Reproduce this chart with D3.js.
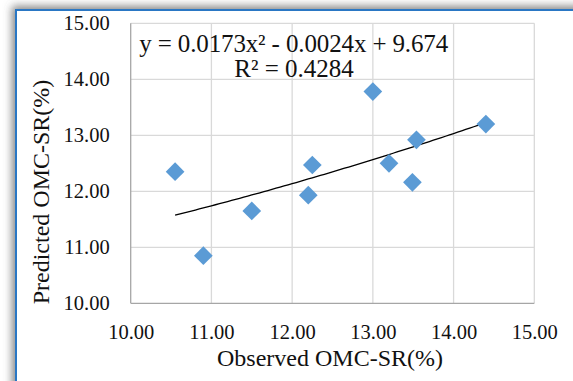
<!DOCTYPE html>
<html><head><meta charset="utf-8">
<script src="https://cdn.jsdelivr.net/npm/d3@7/dist/d3.min.js"></script>
<style>html,body{margin:0;padding:0;background:#fff;overflow:hidden}</style>
</head><body>
<script>
const observed = [10.55, 10.90, 11.50, 12.20, 12.25, 13.00, 13.20, 13.49, 13.54, 14.40];
const predicted = [12.35, 10.85, 11.65, 11.93, 12.47, 13.78, 12.50, 12.16, 12.92, 13.20];
const xTicks = [10, 11, 12, 13, 14, 15];
const yTicks = [10, 11, 12, 13, 14, 15];
const trendCoef = [0.0173, -0.0024, 9.674]; // a, b, c of displayed trendline
const eqLabel = "y = 0.0173x² - 0.0024x + 9.674";
const r2Label = "R² = 0.4284";
const xTitle = "Observed OMC-SR(%)";
const yTitle = "Predicted OMC-SR(%)";

const W = 573, H = 381;
const svg = d3.select("body").append("svg").attr("width", W).attr("height", H);
const defs = svg.append("defs");
const f = defs.append("filter").attr("id","sh").attr("x","-20%").attr("y","-20%").attr("width","140%").attr("height","140%");
f.append("feDropShadow").attr("dx",-3).attr("dy",-3).attr("stdDeviation",4).attr("flood-color","#555").attr("flood-opacity",0.7);

svg.append("rect").attr("x",0).attr("y",0).attr("width",W).attr("height",H).attr("fill","#fff");
svg.append("rect").attr("x",16).attr("y",10).attr("width",700).attr("height",500)
  .attr("fill","#fff").attr("stroke","#2a77c4").attr("stroke-width",2).attr("filter","url(#sh)");

const x = d3.scaleLinear().domain([10,15]).range([130.7,534.3]);
const y = d3.scaleLinear().domain([10,15]).range([303.3,23.3]);
const font = "'Liberation Serif', 'Times New Roman', 'DejaVu Serif', serif";

const g = svg.append("g");
g.selectAll(".gx").data(xTicks.slice(1)).enter().append("line")
  .attr("x1",d=>x(d)).attr("x2",d=>x(d)).attr("y1",y(10)).attr("y2",y(15))
  .attr("stroke","#d9d9d9").attr("stroke-width",1.3);
g.selectAll(".gy").data(yTicks.slice(1)).enter().append("line")
  .attr("x1",x(10)).attr("x2",x(15)).attr("y1",d=>y(d)).attr("y2",d=>y(d))
  .attr("stroke","#d9d9d9").attr("stroke-width",1.3);
g.append("line").attr("x1",x(10)).attr("x2",x(10)).attr("y1",y(10)).attr("y2",y(15)).attr("stroke","#a6a6a6").attr("stroke-width",1.3);
g.append("line").attr("x1",x(10)).attr("x2",x(15)).attr("y1",y(10)).attr("y2",y(10)).attr("stroke","#a6a6a6").attr("stroke-width",1.3);

const xAxis = d3.axisBottom(x).tickValues(xTicks).tickFormat(d3.format(".2f")).tickSize(0).tickPadding(21);
const xa = svg.append("g").attr("transform",`translate(0,${y(10)})`).call(xAxis);
xa.select(".domain").remove();
xa.selectAll("text").attr("font-family",font).attr("font-size",20.5).attr("fill","#111");
const yAxis = d3.axisLeft(y).tickValues(yTicks).tickFormat(d3.format(".2f")).tickSize(0).tickPadding(21);
const ya = svg.append("g").attr("transform",`translate(${x(10)},0)`).call(yAxis);
ya.select(".domain").remove();
ya.selectAll("text").attr("font-family",font).attr("font-size",20.5).attr("fill","#111");

const xs = d3.range(d3.min(observed), d3.max(observed)+0.0001, 0.05);
const line = d3.line().x(d=>x(d)).y(d=>y(trendCoef[0]*d*d+trendCoef[1]*d+trendCoef[2]));
svg.append("path").attr("d", line(xs)).attr("fill","none").attr("stroke","#000").attr("stroke-width",1.3);

svg.selectAll(".pt").data(observed.map((v,i)=>[v,predicted[i]])).enter().append("path")
  .attr("d", d3.symbol().type(d3.symbolSquare).size(175))
  .attr("transform", d=>`translate(${x(d[0])},${y(d[1])}) rotate(45)`)
  .attr("fill","#5b9bd5");

svg.append("text").attr("x",293.7).attr("y",51.7).attr("text-anchor","middle")
  .attr("font-family",font).attr("font-size",25).attr("fill","#111")
  .attr("textLength",309).attr("lengthAdjust","spacing").text(eqLabel);
svg.append("text").attr("x",294).attr("y",76.7).attr("text-anchor","middle")
  .attr("font-family",font).attr("font-size",25).attr("fill","#111").text(r2Label);

svg.append("text").attr("x",330).attr("y",366).attr("text-anchor","middle")
  .attr("font-family",font).attr("font-size",24).attr("fill","#111").text(xTitle);
svg.append("text").attr("transform","translate(49,192) rotate(-90)").attr("text-anchor","middle")
  .attr("font-family",font).attr("font-size",24).attr("fill","#111").text(yTitle);
</script>
</body></html>
